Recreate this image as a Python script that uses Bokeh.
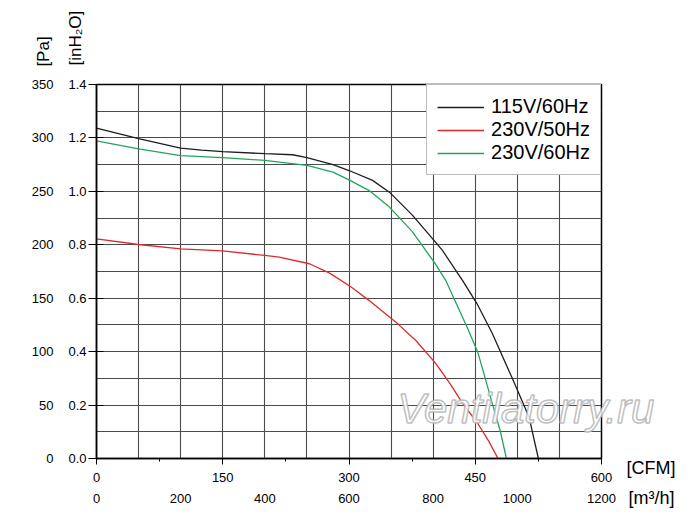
from bokeh.plotting import figure
from bokeh.models import (Range1d, LinearAxis, FixedTicker, PrintfTickFormatter,
                          Label, Legend, LegendItem)
from bokeh.embed import file_html
from bokeh.resources import INLINE

# ---------------- data (CFM vs inH2O) ----------------
cfm_115_60 = [0, 50, 100, 125, 150, 200, 233, 250, 281, 300, 328, 348, 375, 403, 411, 435, 452, 470, 494, 514, 525]
inh2o_115_60 = [1.237, 1.197, 1.162, 1.154, 1.149, 1.141, 1.137, 1.126, 1.100, 1.078, 1.041, 0.997, 0.912, 0.809, 0.779, 0.666, 0.580, 0.470, 0.300, 0.154, 0.0]

cfm_230_50 = [0, 50, 100, 150, 200, 217, 253, 277, 303, 324, 358, 380, 403, 420, 435, 453, 466, 477]
inh2o_230_50 = [0.822, 0.801, 0.785, 0.777, 0.760, 0.754, 0.729, 0.694, 0.641, 0.591, 0.504, 0.440, 0.356, 0.280, 0.206, 0.131, 0.065, 0.0]

cfm_230_60 = [0, 50, 100, 150, 200, 250, 281, 300, 324, 348, 375, 403, 415, 441, 453, 471, 480, 487]
inh2o_230_60 = [1.189, 1.159, 1.134, 1.126, 1.116, 1.097, 1.072, 1.043, 1.003, 0.941, 0.850, 0.727, 0.666, 0.487, 0.398, 0.198, 0.100, 0.0]

series_names = ["115V/60Hz", "230V/50Hz", "230V/60Hz"]
series_colors = ["#1e1e1e", "#dc2a2c", "#1fa65c"]

cfm_ticks = [0, 150, 300, 450, 600]
cfm_minor = [75, 225, 375, 525]
m3h_ticks = [0, 200, 400, 600, 800, 1000, 1200]
inh2o_ticks = [0.0, 0.2, 0.4, 0.6, 0.8, 1.0, 1.2, 1.4]
pa_ticks = [0, 50, 100, 150, 200, 250, 300, 350]
x_grid = list(range(0, 601, 50))
y_grid = [round(0.1 * i, 1) for i in range(15)]

FONT = "Liberation Sans"

p = figure(frame_width=505, frame_height=374,
           min_border_left=96, min_border_right=92, min_border_top=84, min_border_bottom=57,
           x_range=Range1d(0, 600), y_range=Range1d(0, 1.4),
           output_backend="svg", toolbar_location=None,
           background_fill_color="white", border_fill_color="white")

p.outline_line_color = "black"
p.outline_line_width = 1.5

p.extra_x_ranges = {"m3h": Range1d(0, 1200)}
p.extra_y_ranges = {"pa": Range1d(0, 350)}

# grid
p.xgrid.ticker = FixedTicker(ticks=x_grid)
p.ygrid.ticker = FixedTicker(ticks=y_grid)
for g in (p.xgrid, p.ygrid):
    g.grid_line_color = "#4a4a4a"
    g.grid_line_width = 1.1

# bottom CFM axis
xa = p.xaxis[0]
xa.ticker = FixedTicker(ticks=cfm_ticks, minor_ticks=cfm_minor)
xa.major_tick_out = 6
xa.major_tick_in = 0
xa.minor_tick_out = 3
xa.minor_tick_in = 0
xa.major_label_standoff = 8
xa.axis_line_width = 1.5
xa.axis_line_color = "black"
xa.major_label_text_font = FONT
xa.major_label_text_font_size = "13px"
xa.major_label_text_color = "black"

m3h_axis = LinearAxis(x_range_name="m3h", ticker=FixedTicker(ticks=m3h_ticks))
m3h_axis.axis_line_color = None
m3h_axis.major_tick_line_color = None
m3h_axis.minor_tick_line_color = None
m3h_axis.major_label_standoff = 3
m3h_axis.major_label_text_font = FONT
m3h_axis.major_label_text_font_size = "13px"
m3h_axis.major_label_text_color = "black"
p.add_layout(m3h_axis, "below")

# left inH2O axis
ya = p.yaxis[0]
ya.ticker = FixedTicker(ticks=inh2o_ticks)
ya.formatter = PrintfTickFormatter(format="%.1f")
ya.major_tick_out = 8
ya.major_tick_in = 7
ya.minor_tick_line_color = None
ya.major_label_standoff = 2
ya.axis_line_width = 1.5
ya.axis_line_color = "black"
ya.major_label_text_font = FONT
ya.major_label_text_font_size = "13px"
ya.major_label_text_color = "black"

pa_axis = LinearAxis(y_range_name="pa", ticker=FixedTicker(ticks=pa_ticks))
pa_axis.axis_line_color = None
pa_axis.major_tick_line_color = None
pa_axis.minor_tick_line_color = None
pa_axis.major_label_standoff = 6
pa_axis.major_label_text_font = FONT
pa_axis.major_label_text_font_size = "13px"
pa_axis.major_label_text_color = "black"
p.add_layout(pa_axis, "left")

# curves
xs = [cfm_115_60, cfm_230_50, cfm_230_60]
ys = [inh2o_115_60, inh2o_230_50, inh2o_230_60]
items = []
for x, y, c, n in zip(xs, ys, series_colors, series_names):
    r = p.line(x, y, line_color=c, line_width=1.3)
    items.append(LegendItem(label=n, renderers=[r]))

legend = Legend(items=items, location="top_right", margin=0,
                padding=10, spacing=0, glyph_width=47, glyph_height=20,
                label_height=20, label_standoff=7,
                label_text_font=FONT, label_text_font_size="20px",
                label_text_color="black",
                border_line_color="#777777", border_line_width=1,
                background_fill_color="white", background_fill_alpha=1.0)
p.add_layout(legend)

# unit labels (placed in side panels that have spare room, so they are not clipped)
lab_kw = dict(text_font=FONT, text_color="black")
p.add_layout(Label(x=-63.0, y=1.467, text="[Pa]", angle=90, angle_units="deg",
                   text_align="left", text_baseline="middle", text_font_size="17px", **lab_kw), "left")
p.add_layout(Label(x=-25.0, y=1.471, text="[inH\u2082O]", angle=90, angle_units="deg",
                   text_align="left", text_baseline="middle", text_font_size="17px", **lab_kw), "right")
p.add_layout(Label(x=629.7, y=-0.037, text="[CFM]",
                   text_align="left", text_baseline="middle", text_font_size="18px", **lab_kw), "right")
p.add_layout(Label(x=632.0, y=-0.146, text="[m\u00b3/h]",
                   text_align="left", text_baseline="middle", text_font_size="18px", **lab_kw), "above")

# watermark
p.add_layout(Label(x=357.6, y=0.187, text="Ventilatorry.ru",
                   text_align="left", text_baseline="middle",
                   text_font=FONT, text_font_size="42px", text_font_style="italic",
                   text_color="white", text_alpha=0.85,
                   text_outline_color="#b4b4b4"), "above")

open("out.html", "w").write(file_html(p, INLINE))
